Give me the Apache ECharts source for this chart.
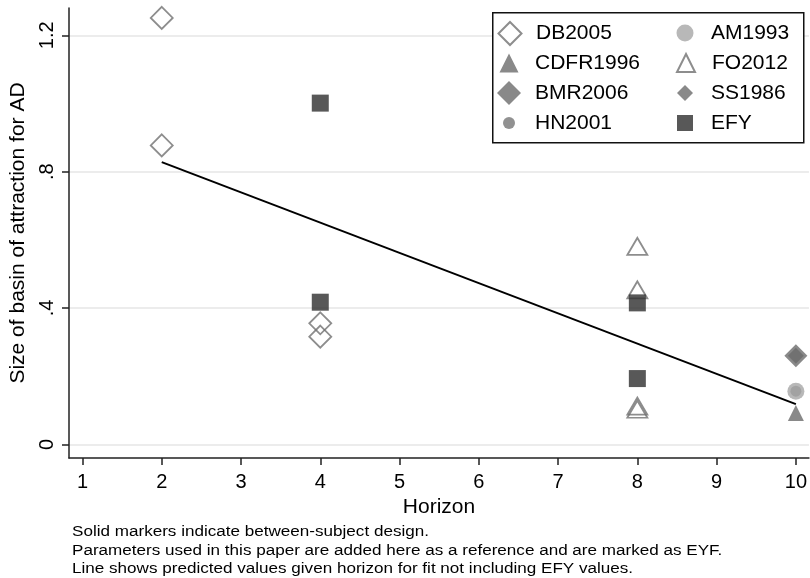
<!DOCTYPE html>
<html><head><meta charset="utf-8">
<script src="https://cdn.jsdelivr.net/npm/echarts@6/dist/echarts.min.js"></script>
<style>html,body{margin:0;padding:0;background:#fff}#c{width:810px;height:578px}</style>
</head><body><div id="c"></div>
<script>
// ---- data ----
const xTicks = [1, 2, 3, 4, 5, 6, 7, 8, 9, 10];
const yTicks = [0, 0.4, 0.8, 1.2];
const yTickLabels = ['0', '.4', '.8', '1.2'];
const DB2005 = [[2, 1.251], [2, 0.877], [4, 0.355], [4, 0.316]];
const CDFR1996 = [[10, 0.092]];
const BMR2006 = [[10, 0.26]];
const HN2001 = [[10, 0.156]];
const AM1993 = [[10, 0.156]];
const FO2012 = [[8, 0.581], [8, 0.453], [8, 0.112], [8, 0.103]];
const SS1986 = [[10, 0.26]];
const EFY = [[4, 1.001], [4, 0.417], [8, 0.415], [8, 0.193]];
const fitLine = [[2, 0.828], [10, 0.118]];
const xTitle = 'Horizon';
const yTitle = 'Size of basin of attraction for AD';
const notes = [
  'Solid markers indicate between-subject design.',
  'Parameters used in this paper are added here as a reference and are marked as EYF.',
  'Line shows predicted values given horizon for fit not including EFY values.'
];

const FONT = '"Liberation Sans", Arial, Helvetica, sans-serif';
const chart = echarts.init(document.getElementById('c'), null, {renderer: 'canvas'});

const hollow = (c) => ({color: 'rgba(255,255,255,0)', borderColor: c, borderWidth: 1.8});
const solid = (c) => ({color: c, borderWidth: 0});

const seriesDefs = [
  {name: 'HN2001', data: HN2001, symbol: 'circle', size: 11, lsize: 12, style: solid('#757575'), col: 0, row: 3},
  {name: 'SS1986', data: SS1986, symbol: 'diamond', size: 16, lsize: 16, style: solid('#6b6b6b'), col: 1, row: 2},
  {name: 'DB2005', data: DB2005, symbol: 'diamond', size: 22, lsize: 23, style: hollow('#707070'), col: 0, row: 0},
  {name: 'CDFR1996', data: CDFR1996, symbol: 'triangle', size: [16, 16], lsize: 19, style: solid('#6b6b6b'), col: 0, row: 1},
  {name: 'BMR2006', data: BMR2006, symbol: 'diamond', size: 23, lsize: 24, style: solid('#6b6b6b'), col: 0, row: 2},
  {name: 'AM1993', data: AM1993, symbol: 'circle', size: 17, lsize: 17, style: solid('#a6a6a6'), col: 1, row: 0},
  {name: 'FO2012', data: FO2012, symbol: 'triangle', size: [20, 17], lsize: 18, style: hollow('#707070'), col: 1, row: 1},
  {name: 'EFY', data: EFY, symbol: 'rect', size: 17, lsize: 16, style: solid('#2e2e2e'), col: 1, row: 3}
];

const series = [{
  type: 'scatter', name: '_grid', data: [], silent: true, z: 0,
  markLine: {
    silent: true, symbol: ['none', 'none'], animation: false, z: 0,
    label: {show: false},
    lineStyle: {color: '#e6e6e6', width: 1.5, type: 'solid'},
    data: yTicks.map(v => ({yAxis: v}))
  }
}];
seriesDefs.forEach(d => series.push({
  type: 'scatter', name: d.name, data: d.data, symbol: d.symbol, symbolSize: d.size, z: 2,
  itemStyle: d.style, emphasis: {disabled: true}
}));
series.push({
  type: 'line', name: 'fit', data: fitLine, symbol: 'none', silent: true,
  lineStyle: {color: '#000', width: 2}, z: 3
});

const colX = [509, 685];
const rowY = [33, 63, 93, 123];
const legends = seriesDefs.map(d => ({
  data: [d.name], left: colX[d.col] - d.lsize / 2, top: rowY[d.row] - 12,
  orient: 'horizontal', itemWidth: d.lsize, itemHeight: d.lsize, itemGap: 0, padding: 0,
  selectedMode: false, z: 10,
  textStyle: {fontSize: 21, color: '#000', lineHeight: 24, fontFamily: FONT,
              padding: [0, 0, 0, 21 - d.lsize / 2]}
}));

const option = {
  animation: false,
  backgroundColor: '#fff',
  textStyle: {fontFamily: FONT},
  grid: {left: 69, right: 0, top: 8, bottom: 120, containLabel: false},
  xAxis: {
    type: 'value', min: 0.83, max: 10.165,
    name: xTitle, nameLocation: 'middle', nameGap: 37,
    nameTextStyle: {fontSize: 21, color: '#000', fontFamily: FONT},
    axisLine: {show: true, onZero: false, lineStyle: {color: '#222', width: 1.5}},
    axisTick: {show: true, length: 7, customValues: xTicks, lineStyle: {color: '#222', width: 1.5}},
    axisLabel: {customValues: xTicks, fontSize: 20, color: '#000', margin: 14, fontFamily: FONT},
    splitLine: {show: false}
  },
  yAxis: {
    type: 'value', min: -0.04, max: 1.28,
    name: yTitle, nameLocation: 'middle', nameGap: 37, nameRotate: 90,
    nameTextStyle: {fontSize: 21, color: '#000', fontFamily: FONT},
    axisLine: {show: true, onZero: false, lineStyle: {color: '#222', width: 1.5}},
    axisTick: {show: true, length: 7, customValues: yTicks, lineStyle: {color: '#222', width: 1.5}},
    axisLabel: {
      customValues: yTicks, rotate: 90, fontSize: 20, color: '#000', margin: 12, fontFamily: FONT,
      formatter: v => { const i = yTicks.findIndex(t => Math.abs(t - v) < 1e-9); return i >= 0 ? yTickLabels[i] : ''; }
    },
    splitLine: {show: false}
  },
  legend: legends,
  graphic: [
    {type: 'rect', left: 492, top: 12, z: 8, shape: {width: 311, height: 130},
     style: {fill: '#fff', stroke: '#111', lineWidth: 1.5}},
    ...notes.map((t, i) => ({
      type: 'text', x: 72, y: 525 + i * 18.8, scaleX: 1.22, z: 5,
      style: {text: t, fill: '#000', font: '14px ' + FONT, textVerticalAlign: 'top', verticalAlign: 'top'}
    }))
  ],
  series: series
};
chart.setOption(option);
</script>
</body></html>
